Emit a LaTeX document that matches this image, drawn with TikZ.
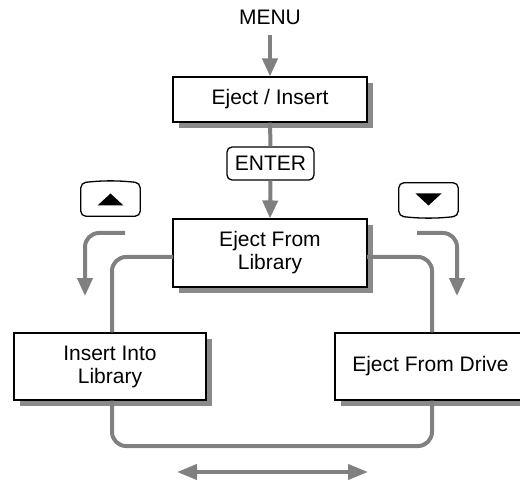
\documentclass[tikz,border=0pt]{standalone}
\usepackage{fontspec}
\setmainfont{Liberation Sans}
\usetikzlibrary{arrows.meta,shadows,calc}
\definecolor{flowgray}{HTML}{808080}
\definecolor{shadowgray}{HTML}{8A8A8A}
\begin{document}
\begin{tikzpicture}[x=1pt,y=-1pt,
  font=\fontsize{21}{23}\selectfont,
  menubox/.style={draw=black,line width=1.1pt,fill=white,align=center,
    inner sep=0pt,
    drop shadow={shadow xshift=6pt,shadow yshift=-6pt,fill=shadowgray,opacity=1}},
  keybox/.style={draw=black,line width=1.3pt,fill=white,rounded corners=5pt,inner sep=0pt},
  flow/.style={draw=flowgray,line width=4pt},
  flowarrow/.style={flow,-{Triangle[length=18pt,width=15pt]},color=flowgray},
  loop/.style={flow,rounded corners=14pt}]
\useasboundingbox (0,0) rectangle (520,484);
\begin{scope}
\clip (0,0) rectangle (520,484);
\node (menu) at (270,17) {MENU};
\node[menubox,minimum width=194pt,minimum height=45pt] (ei) at (270,99.5) {Eject / Insert};
\node[keybox,minimum width=87pt,minimum height=33pt] (enter) at (270.5,163.5) {ENTER};
\node[menubox,minimum width=194pt,minimum height=68pt] (efl) at (270,253) {Eject From\\Library};
\node[menubox,minimum width=192pt,minimum height=67pt] (iil) at (110,366.5) {Insert Into\\Library};
\node[menubox,minimum width=191pt,minimum height=67pt] (efd) at (430.5,366.5) {Eject From Drive};
% keys
\node[minimum width=59pt,minimum height=33pt,inner sep=0pt] (up) at (110.5,199.5) {};
\draw[black,line width=1.3pt,rounded corners=5pt]
  (up.south west) -- (up.north west) to[bend left=6] (up.north east) -- (up.south east) -- cycle;
\fill[black] ($(up.center)+(-13,6)$) -- ++(26,0) -- ++(-13,-12) -- cycle;
\node[minimum width=59pt,minimum height=33pt,inner sep=0pt] (down) at (428.5,199.5) {};
\draw[black,line width=1.3pt,rounded corners=5pt]
  (down.north west) -- (down.north east) -- (down.south east) to[bend left=6] (down.south west) -- cycle;
\fill[black] ($(down.center)+(-13,-6)$) -- ++(26,0) -- ++(-13,12) -- cycle;
% main flow
\draw[flowarrow] ($(menu.south)+(0,7)$) -- (ei.north);
\draw[flow] (ei.south) -- (enter.north);
\draw[flowarrow] (enter.south) -- (efl.north);
% loop
\coordinate (lw) at (173,257);
\coordinate (le) at (367,257);
\draw[loop] (lw) -| (iil.north -| 112,0);
\draw[loop] (le) -| (efd.north -| 432,0);
\draw[loop] (iil.south -| 112,0) -- (112,446) -- (432,446) -- (efd.south -| 432,0);
% side arrows
\coordinate (ls) at (125,233);
\coordinate (le2) at (85,296);
\draw[flowarrow,rounded corners=14pt] (ls) -| (le2);
\coordinate (rs) at (417,233);
\coordinate (re2) at (457,296);
\draw[flowarrow,rounded corners=14pt] (rs) -| (re2);
% double arrow
\coordinate (da) at (177,472);
\coordinate (db) at (368,472);
\draw[flow,{Triangle[length=20pt,width=15pt]}-{Triangle[length=20pt,width=15pt]},color=flowgray] (da) -- (db);
\end{scope}
\end{tikzpicture}
\end{document}
